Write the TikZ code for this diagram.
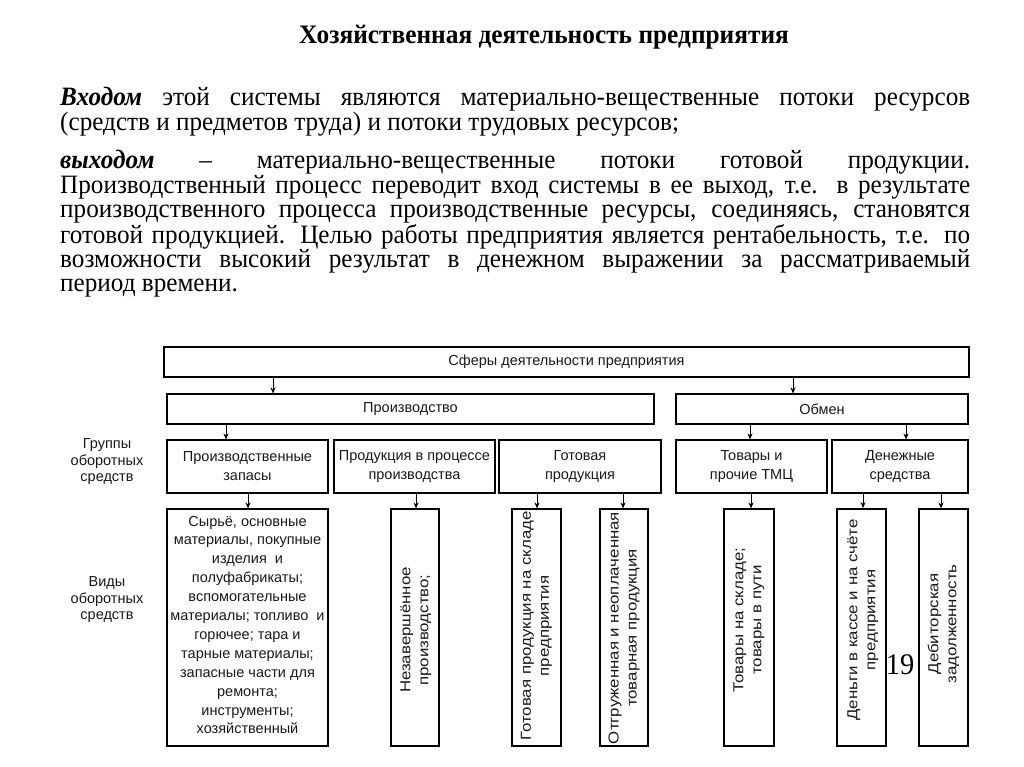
\documentclass[tikz,border=0pt]{standalone}
\usepackage{fontspec}
\setmainfont{Liberation Serif}[FakeStretch=0.95]
\newfontfamily\diagfont{Liberation Sans}
\newfontfamily\diagwide{Liberation Sans}[FakeStretch=1.16]
\usetikzlibrary{arrows.meta}
\begin{document}
\begin{tikzpicture}[x=1pt,y=-1pt,
  box/.style={draw, line width=1.1pt, inner sep=0pt},
  lbl/.style={font=\diagfont\fontsize{14.5}{19}\selectfont, align=center, text=black!90},
  vlbl/.style={font=\diagwide\fontsize{14.5}{18}\selectfont, align=center, rotate=90, text=black!90},
  side/.style={font=\diagfont\fontsize{14.5}{16.5}\selectfont, align=center, text=black!90},
  arr/.style={-{Stealth[length=6pt,width=5pt]}, line width=0.9pt},
  body/.style={anchor=base west, inner sep=0pt, text width=910pt, align=justify,
    font=\fontsize{26.5}{24.2}\selectfont}]
\useasboundingbox[fill=white] (0,0) rectangle (1024,767);

% title and text
\node[anchor=base, inner sep=0pt, font=\bfseries\fontsize{26.7}{24.2}\selectfont] (title) at (544,44) {Хозяйственная деятельность предприятия};
\node[body] (p1) at (60,106) {\textbf{\textit{Входом}} этой системы являются материально-вещественные потоки ресурсов\linebreak (средств и предметов труда) и потоки трудовых ресурсов;};
\node[body] (p2) at (60,169) {\textbf{\textit{выходом}} – материально-вещественные потоки готовой продукции.\linebreak Производственный процесс переводит вход системы в ее выход, т.е. в результате\linebreak производственного процесса производственные ресурсы, соединяясь, становятся\linebreak готовой продукцией. Целью работы предприятия является рентабельность, т.е. по\linebreak возможности высокий результат в денежном выражении за рассматриваемый\linebreak период времени.};

% level 1, 2
\node[box, minimum width=805pt, minimum height=30pt, lbl] (top) at (566.5,362) {Сферы деятельности предприятия};
\node[box, minimum width=487pt, minimum height=30pt, lbl] (prod) at (410.5,409) {Производство};
\node[box, minimum width=292pt, minimum height=30pt, lbl] (obmen) at (822,409) {Обмен};

% level 3
\node[box, minimum width=161pt, minimum height=53pt, lbl] (g1) at (247.5,466.5) {Производственные\\запасы};
\node[box, minimum width=161pt, minimum height=53pt, lbl] (g2) at (414.5,466.5) {Продукция в процессе\\производства};
\node[box, minimum width=162pt, minimum height=53pt, lbl] (g3) at (580,466.5) {Готовая\\продукция};
\node[box, minimum width=151pt, minimum height=53pt, lbl] (g4) at (751.5,466.5) {Товары и\\прочие ТМЦ};
\node[box, minimum width=136pt, minimum height=53pt, lbl] (g5) at (900,466.5) {Денежные\\средства};

% level 4
\node[box, minimum width=161pt, minimum height=237pt] (v1) at (247.5,627.5) {};
\node[box, minimum width=48pt, minimum height=237pt] (v2) at (415,627.5) {};
\node[box, minimum width=49pt, minimum height=237pt] (v3) at (536.5,627.5) {};
\node[box, minimum width=48pt, minimum height=237pt] (v4) at (624,627.5) {};
\node[box, minimum width=50pt, minimum height=237pt] (v5) at (749,627.5) {};
\node[box, line width=1.8pt, minimum width=49pt, minimum height=237pt] (v6) at (861.5,627.5) {};
\node[box, minimum width=49pt, minimum height=237pt] (v7) at (943.5,627.5) {};

\node[lbl, font=\diagfont\fontsize{14.5}{18.9}\selectfont] (t1) at (247.5,625) {Сырьё, основные\\материалы, покупные\\изделия\ \ и\\полуфабрикаты;\\вспомогательные\\материалы; топливо\ \ и\\горючее; тара и\\тарные материалы;\\запасные части для\\ремонта;\\инструменты;\\хозяйственный};
\node[vlbl] (t2) at (416,630) {Незавершённое\\производство;};
\node[vlbl] (t3) at (536.5,626) {Готовая продукция на складе\\предприятия};
\node[vlbl] (t4) at (624,628) {Отгруженная и неоплаченная\\товарная продукция};
\node[vlbl] (t5) at (749,620) {Товары на складе;\\товары в пути};
\node[vlbl] (t6) at (863,620) {Деньги в кассе и на счёте\\предприятия};
\node[vlbl] (t7) at (943.5,624) {Дебиторская\\задолженность};

% side labels
\node[side] (s1) at (107,462) {Группы\\оборотных\\средств};
\node[side] (s2) at (107,600) {Виды\\оборотных\\средств};

% page number
\node[font=\fontsize{30}{30}\selectfont, inner sep=0pt] (num) at (900,665) {19};

% arrow x positions
\coordinate (xa) at (273,0);
\coordinate (xb) at (793,0);
\coordinate (xc) at (226,0);
\coordinate (xd) at (750,0);
\coordinate (xe) at (906,0);
\coordinate (xf) at (248,0);
\coordinate (xg) at (416,0);
\coordinate (xh) at (537,0);
\coordinate (xi) at (623,0);
\coordinate (xj) at (751,0);
\coordinate (xk) at (863,0);
\coordinate (xl) at (941,0);

\draw[arr] (top.south -| xa) -- (prod.north -| xa);
\draw[arr] (top.south -| xb) -- (obmen.north -| xb);
\draw[arr] (prod.south -| xc) -- (g1.north -| xc);
\draw[arr] (obmen.south -| xd) -- (g4.north -| xd);
\draw[arr] (obmen.south -| xe) -- (g5.north -| xe);
\draw[arr] (g1.south -| xf) -- (v1.north -| xf);
\draw[arr] (g2.south -| xg) -- (v2.north -| xg);
\draw[arr] (g3.south -| xh) -- (v3.north -| xh);
\draw[arr] (g3.south -| xi) -- (v4.north -| xi);
\draw[arr] (g4.south -| xj) -- (v5.north -| xj);
\draw[arr] (g5.south -| xk) -- (v6.north -| xk);
\draw[arr] (g5.south -| xl) -- (v7.north -| xl);
\end{tikzpicture}
\end{document}
